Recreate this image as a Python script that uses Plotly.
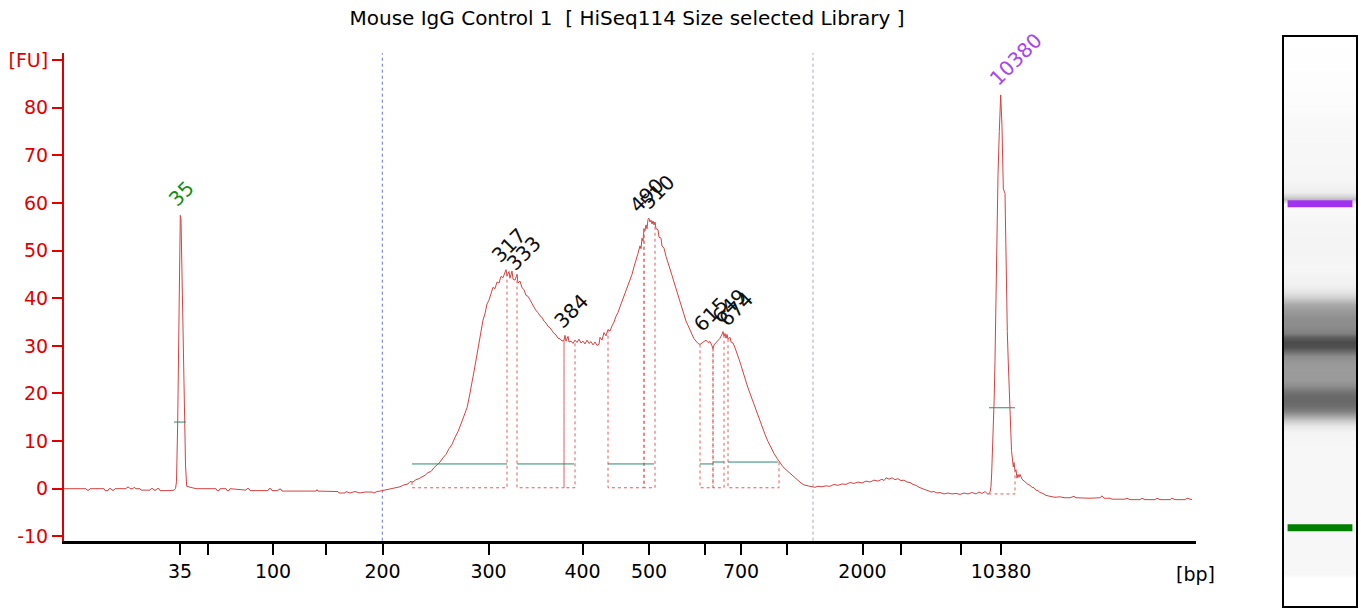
import numpy as np
import plotly.graph_objects as go

# ---------------- data ----------------
# migration position (arbitrary linear units) and fluorescence [FU]
mig_pos = [
    64, 86, 87, 89, 90, 104, 105, 108, 109, 111, 112, 114, 115, 126, 127, 129, 130, 133, 134, 136,
    140, 141, 150, 151, 153, 154, 156, 157, 159, 160, 170, 174,
    175.5, 176.5, 177.7, 178.6, 179.5, 180.3, 181, 182, 183.2, 184.3, 185.5, 186.7,
    190, 196, 216, 217, 219, 220, 226, 227, 229, 230, 246, 247, 249, 250, 268, 269, 271, 272, 278,
    279, 281, 282, 316, 317, 318, 338, 339, 345, 346, 350, 355, 360, 365, 372, 374, 377, 380, 384,
    388, 391,
    395, 400, 404, 408, 410, 413, 416, 419, 422, 425, 428, 431, 434, 437, 440, 443, 446, 449, 452,
    455, 458, 461, 464, 467, 469, 471, 473, 475, 477, 479, 481, 483, 485, 487, 489, 491, 493, 495,
    497, 499, 501, 503, 505, 506, 507, 509, 510, 512, 513, 515, 517, 518, 520, 522, 524, 526, 528,
    530, 532, 534, 536, 538, 540, 542, 544, 546, 548, 550, 552, 554, 556, 558, 560, 562, 564, 565,
    566, 568, 569, 571, 573, 575, 577, 579, 581, 583, 585, 587, 589, 591, 593, 595, 597, 599, 600,
    602, 604, 606, 608, 610, 612, 614, 616, 618, 620, 622, 624, 626, 628, 630, 632, 634, 636, 638,
    640, 641, 642, 643, 644, 645, 646, 647, 648, 649, 650, 651, 652, 653, 654, 655, 656, 658, 659,
    661, 662, 664, 666, 668, 670, 672, 674, 676, 678, 680, 682, 684, 686, 688, 690, 692, 694, 696,
    698, 700, 702, 704, 706, 708, 710, 712, 713, 714, 716, 718, 720, 722, 723, 724, 725, 726, 727,
    728, 730, 731, 733, 735, 737, 739, 741, 743, 745, 747, 749, 751, 753, 756, 759, 762, 765, 768,
    771, 774, 777, 780, 783, 786, 789, 792, 795, 798, 801, 804, 807, 810, 815, 818, 822, 826, 830,
    834, 838, 842, 846, 850, 854, 858, 862, 866, 870, 874, 878, 882, 884, 886, 889, 892, 895, 898,
    901, 904, 907, 910, 913, 916, 919, 922, 925, 928, 931, 934, 937, 940, 944, 948, 952, 956, 960,
    964, 968, 972, 976, 979, 982, 985, 988, 990,
    991, 991.7, 992.5, 993.3, 994.2, 995, 996, 996.7, 998, 999.3, 1000.7, 1002, 1003.3, 1005, 1006,
    1006.7, 1007.3, 1008.3, 1010, 1011.5, 1013.3, 1014, 1015, 1016, 1017, 1018, 1019, 1020, 1022,
    1024, 1026, 1028, 1030, 1032, 1034, 1036, 1038, 1040, 1043, 1046, 1050, 1055, 1060, 1064, 1070,
    1074, 1076, 1090, 1100, 1102, 1104, 1110, 1112, 1125, 1127, 1130, 1140, 1142, 1145, 1155, 1157,
    1160, 1170, 1172, 1175, 1185, 1187, 1192,
]
fu_signal = [
    0, 0, -0.3, -0.3, 0, 0, -0.4, -0.4, 0, 0, -0.3, -0.3, 0, 0, 0.3, 0.3, 0, 0, 0.3, 0,
    0, -0.3, -0.3, 0, 0, -0.3, -0.3, 0, 0, -0.4, -0.4, -0.3,
    0, 1.5, 14, 28, 43.5, 57.4, 56.5, 43.5, 28, 14, 5, 0.5,
    0.3, 0, 0, -0.4, -0.4, 0, 0, -0.4, -0.4, 0, -0.3, 0, 0, -0.4, -0.4, 0, 0, -0.4, -0.4,
    -0.1, -0.1, -0.5, -0.5, -0.2, -0.5, -0.6, -0.9, -0.9, -0.6, -0.9, -0.6, -0.9, -0.7, -0.7, -0.9, -0.6, -0.5, -0.3,
    -0.2, 0,
    0.3, 0.4, 0.8, 1.0, 1.5, 1.4, 1.9, 2.1, 2.5, 2.8, 3.4, 3.6, 4.4, 5.0, 5.6, 6.5, 7.2, 8.4, 9.3,
    10.8, 12.0, 13.6, 15.2, 17.0, 19.0, 21.0, 23.5, 25.8, 28.4, 30.6, 33.0, 35.4, 36.8, 38.8, 39.6, 41.2, 42.3, 42.0,
    43.4, 43.2, 44.6, 44.3, 45.8, 46.0, 44.7, 45.6, 44.2, 45.7, 44.0, 43.8, 45.0, 43.2, 43.6, 42.2, 41.8, 40.6, 40.4,
    39.6, 39.0, 38.2, 37.4, 37.0, 36.3, 36.0, 35.2, 34.8, 34.1, 33.8, 33.1, 32.6, 32.3, 31.6, 31.5, 31.0, 31.2, 32.2,
    31.0, 32.0, 30.8, 31.0, 30.5, 31.2, 30.7, 31.4, 30.6, 31.0, 30.4, 31.2, 30.5, 30.9, 30.2, 30.8, 30.1, 30.3, 31.8,
    31.2, 32.8, 32.1, 33.4, 33.1, 34.2, 35.0, 36.2, 37.0, 38.2, 39.3, 40.2, 41.6, 42.6, 43.9, 45.0, 46.6, 47.8, 49.4,
    51.0, 50.4, 52.6, 52.0, 54.6, 54.2, 55.4, 54.6, 56.6, 56.8, 56.0, 56.4, 55.6, 56.2, 55.4, 56.0, 54.6, 54.4, 52.8,
    52.6, 51.0, 50.5, 48.8, 47.6, 46.4, 44.8, 43.4, 42.0, 40.4, 39.2, 37.6, 36.5, 35.2, 34.3, 33.2, 32.4, 31.5, 31.0,
    30.5, 30.3, 30.6, 30.9, 31.2, 30.7, 30.9, 30.0, 29.4, 30.2, 30.6, 31.0, 31.6, 32.4, 33.0, 32.0, 32.6, 31.6, 32.4,
    31.4, 31.8, 30.8, 30.6, 29.6, 28.6, 27.2, 25.9, 24.4, 23.2, 21.8, 20.6, 19.4, 18.2, 16.4, 14.6, 12.8, 11.4, 9.9,
    8.6, 7.4, 6.4, 5.5, 4.6, 4.0, 3.4, 2.8, 2.2, 1.6, 1.2, 0.8, 0.6, 0.5, 0.3, 0.5, 0.4, 0.6, 0.5,
    0.9, 0.7, 1.0, 0.9, 1.3, 1.1, 1.4, 1.2, 1.6, 1.4, 1.8, 1.6, 2.0, 1.7, 2.3, 2.0, 2.3, 1.9, 2.1,
    1.7, 1.8, 1.4, 1.3, 0.9, 0.7, 0.3, 0.0, -0.2, -0.4, -0.7, -0.6, -0.9, -0.8, -1.1, -0.9, -1.1, -1.0, -1.2,
    -0.9, -1.1, -0.8, -1.1, -0.7, -1.0, -0.6, -1.2, -0.8,
    0.5, 3.3, 8, 12.3, 19, 27, 40, 56, 66, 75, 82.7, 76, 63, 62, 48,
    40, 33, 26.4, 14.8, 8, 4.6, 5.5, 3.6, 4.0, 2.2, 3.0, 2.4, 3.0, 2.0,
    1.6, 1.3, 0.9, 0.7, 0.3, 0.2, -0.3, -0.4, -0.8, -1.0, -1.4, -1.6, -1.8, -1.7, -1.9, -1.9,
    -1.6, -1.9, -2.0, -1.9, -1.5, -2.0, -2.0, -2.2, -2.2, -2.0, -2.3, -2.3, -2.0, -2.3, -2.3, -2.0,
    -2.3, -2.3, -2.0, -2.3, -2.3, -2.0, -2.3,
]

# ladder (size standard) positions on the migration axis
ladder_bp = [35, 50, 100, 150, 200, 300, 400, 500, 600, 700, 1000, 2000, 3000, 7000, 10380]
ladder_pos = [180, 208, 273, 326, 382.5, 488.5, 582.5, 649, 705, 741, 787, 862.5, 901, 961, 1001]
ladder_labeled = [35, 100, 200, 300, 400, 500, 700, 2000, 10380]

y_ticks = [-10, 0, 10, 20, 30, 40, 50, 60, 70, 80]
y_unit_tick = 90

# called peaks
peak_bp = [35, 317, 333, 384, 490, 510, 615, 649, 674, 10380]
peak_pos = [180.3, 504, 519, 566, 642, 652, 706, 724, 731, 1002]
peak_fu = [57.4, 45.7, 44.0, 32.0, 56.2, 57.0, 31.2, 33.0, 32.3, 82.9]
peak_kind = ["lower", "s", "s", "s", "s", "s", "s", "s", "s", "upper"]

# integration regions (dotted) and peak-width markers
region_start = [412, 517, 564, 608, 644, 700, 713, 728, 989]
region_end = [507, 564, 575, 644, 655, 713, 724, 779, 1015]
region_base = [0.2, 0.2, 0.2, 0.2, 0.2, 0.2, 0.2, 0.2, -1.1]
width_start = [174, 412, 517, 608, 700, 713, 728, 989]
width_end = [186, 507, 574, 654, 713, 724, 778, 1015]
width_level = [14.0, 5.2, 5.2, 5.2, 5.2, 5.6, 5.6, 17.0]

# analysis range markers
range_marks = [382.3, 813]
range_colors = ["rgb(110,110,225)", "rgb(165,165,195)"]

# virtual gel lane: row centres (lane position) and gray level
gel_rows = [37, 60, 100, 120, 150, 180, 192, 196, 199, 204, 209, 213, 225, 250, 270, 285, 292,
            298, 304, 310, 318, 326, 333, 337, 342, 347, 351, 356, 362, 370, 380, 386, 391, 396,
            401, 406, 411, 416, 421, 426, 432, 450, 500, 520, 524, 532, 560, 574, 578, 606]
gel_gray = [255, 254, 252, 249, 247, 246, 238, 215, 190, 248, 249, 248, 245, 244, 246, 240, 228,
            205, 170, 155, 142, 140, 128, 95, 75, 80, 105, 140, 152, 155, 154, 140, 118, 105,
            104, 110, 128, 165, 205, 232, 244, 247, 247, 247, 247, 247, 247, 247, 255, 255]
gel_band_pos = [203.8, 527.8]
gel_band_color = ["rgb(160,50,240)", "rgb(0,128,0)"]

# ---------------- figure ----------------
FONT = "DejaVu Sans"
RED = "rgb(225,0,0)"
TRACE = "rgb(215,65,65)"

fig = go.Figure()

# virtual gel
fig.add_trace(go.Heatmap(x=[0.05, 0.95], y=gel_rows, z=[[g, g] for g in gel_gray],
                         colorscale=[[0, "rgb(0,0,0)"], [1, "rgb(255,255,255)"]],
                         zmin=0, zmax=255, showscale=False, hoverinfo="skip",
                         zsmooth="best", xaxis="x2", yaxis="y2"))
for yp, col in zip(gel_band_pos, gel_band_color):
    fig.add_trace(go.Scatter(x=[0.05, 0.95], y=[yp, yp], mode="lines",
                             line=dict(color=col, width=7), hoverinfo="skip",
                             xaxis="x2", yaxis="y2"))

# main electropherogram
fig.add_trace(go.Scatter(x=mig_pos, y=fu_signal, mode="lines",
                         line=dict(color=TRACE, width=1), hoverinfo="skip"))

# integration regions
rx, ry = [], []
for s, e, b in zip(region_start, region_end, region_base):
    rx += [s, s, e, e, None]
    ry += [float(np.interp(s, mig_pos, fu_signal)), b, b,
           float(np.interp(e, mig_pos, fu_signal)), None]
fig.add_trace(go.Scatter(x=rx, y=ry, mode="lines",
                         line=dict(color="rgb(230,90,90)", width=1, dash="dot"),
                         hoverinfo="skip"))

# peak width markers
wx, wy = [], []
for s, e, lv in zip(width_start, width_end, width_level):
    wx += [s, e, None]
    wy += [lv, lv, None]
fig.add_trace(go.Scatter(x=wx, y=wy, mode="lines",
                         line=dict(color="rgb(40,140,105)", width=1), hoverinfo="skip"))

for xm, col in zip(range_marks, range_colors):
    fig.add_vline(x=xm, line=dict(color=col, width=1, dash="dot"), layer="below")

# peak labels (rotated)
char_w = 12.7
for bp, pos, h, kind in zip(peak_bp, peak_pos, peak_fu, peak_kind):
    txt = str(bp)
    L = len(txt) * char_w
    col = {"lower": "rgb(20,140,20)", "upper": "rgb(165,70,240)"}.get(kind, "rgb(15,15,15)")
    fig.add_annotation(x=pos, y=h, text=txt, showarrow=False, textangle=-45,
                       xanchor="center", yanchor="middle",
                       xshift=-4 + 0.707 * (L / 2 - 6), yshift=8 + 0.707 * (L / 2 + 6),
                       font=dict(family=FONT, size=20, color=col))

tick_text = [str(b) if b in ladder_labeled else "" for b in ladder_bp]

fig.update_layout(
    width=1361, height=609,
    margin=dict(l=64, r=5, t=37, b=3, autoexpand=False),
    paper_bgcolor="white", plot_bgcolor="white",
    showlegend=False,
    font=dict(family=FONT, size=19, color="black"),
    title=dict(text="Mouse IgG Control 1 \u00a0[ HiSeq114 Size selected Library ]",
               xref="container", yref="container", x=0.4607, y=0.9704,
               xanchor="center", yanchor="middle",
               font=dict(family=FONT, size=20, color="black")),
    xaxis=dict(domain=[0, 0.87616], range=[64, 1196], anchor="y", automargin=False,
               tickmode="array", tickvals=ladder_pos, ticktext=tick_text,
               ticks="outside", ticklen=12, tickwidth=2, tickcolor="black",
               showline=True, linecolor="black", linewidth=2.5,
               showgrid=False, zeroline=False, ticklabelstandoff=0,
               tickfont=dict(family=FONT, size=19, color="black")),
    yaxis=dict(domain=[0.11476, 0.97188], range=[-10.92, 91.5], anchor="x", automargin=False,
               tickmode="array", tickvals=y_ticks + [y_unit_tick],
               ticktext=[str(v) for v in y_ticks] + ["[FU]"],
               ticks="outside", ticklen=10, tickwidth=2, tickcolor=RED,
               showline=True, linecolor=RED, linewidth=2,
               showgrid=False, zeroline=False,
               tickfont=dict(family=FONT, size=19, color=RED)),
    xaxis2=dict(domain=[0.94427, 1.0], range=[0, 1], anchor="y2", automargin=False,
                showline=True, mirror=True, linecolor="black", linewidth=2,
                showticklabels=False, ticks="", showgrid=False, zeroline=False),
    yaxis2=dict(domain=[0, 1], range=[606, 37], anchor="x2", automargin=False,
                showline=True, mirror=True, linecolor="black", linewidth=2,
                showticklabels=False, ticks="", showgrid=False, zeroline=False),
)

fig.add_annotation(x=1.0, y=0, xref="x domain", yref="y domain", text="[bp]",
                   showarrow=False, xanchor="center", yanchor="top", yshift=-20,
                   font=dict(family=FONT, size=19, color="black"))

fig.write_html("out.html", config={"displayModeBar": False},
               post_script="document.body.style.margin='0';document.body.style.overflow='hidden';")
